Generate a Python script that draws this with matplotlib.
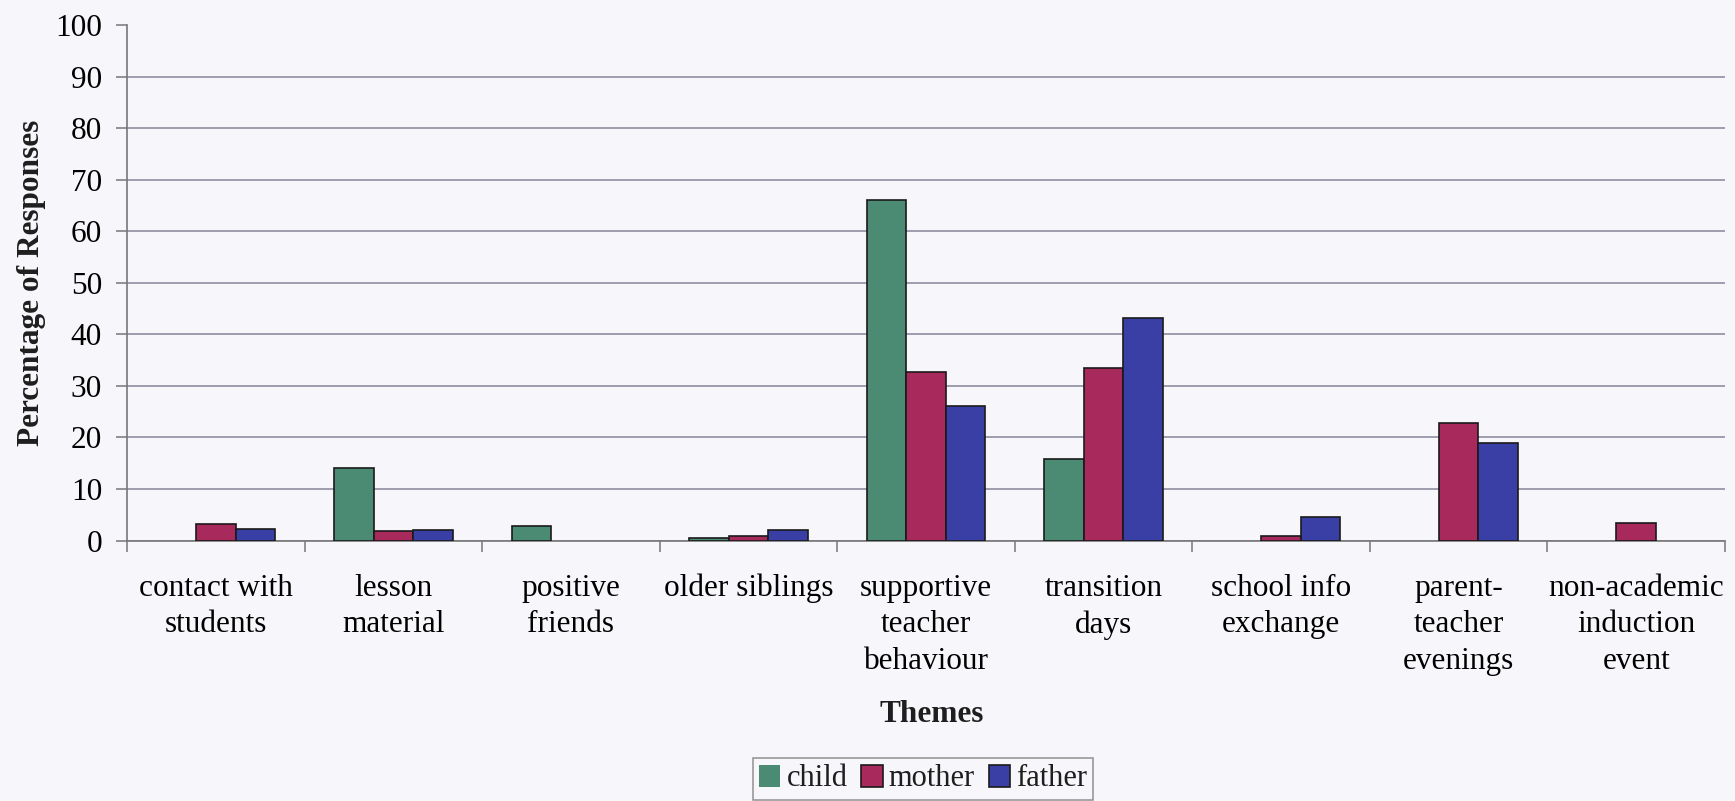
import matplotlib
matplotlib.use("Agg")
import matplotlib.pyplot as plt
import numpy as np

# Themes and percentage of responses per respondent group
themes = [
    "contact with\nstudents",
    "lesson\nmaterial",
    "positive\nfriends",
    "older siblings",
    "supportive\nteacher\nbehaviour",
    "transition\ndays",
    "school info\nexchange",
    "parent-\nteacher\nevenings",
    "non-academic\ninduction\nevent",
]
child = [0, 14.0, 2.9, 0.45, 66.0, 15.8, 0, 0, 0]
mother = [3.2, 1.9, 0, 0.85, 32.6, 33.5, 0.9, 22.8, 3.4]
father = [2.3, 2.1, 0, 2.0, 26.1, 43.1, 4.5, 18.9, 0]
series_names = ["child", "mother", "father"]
y_ticks = [0, 10, 20, 30, 40, 50, 60, 70, 80, 90, 100]

colors = ["#4b8b74", "#a82a5c", "#3a3fa6"]
bg = "#f7f7fb"

plt.rcParams["font.family"] = ["Liberation Serif", "DejaVu Serif"]
plt.rcParams["text.color"] = "#1e1e1e"

W, H = 1735, 801
fig = plt.figure(figsize=(W / 100, H / 100), dpi=100, facecolor=bg)
ax = fig.add_axes([127 / W, 1 - 540.5 / H, (1725 - 127) / W, (540.5 - 25) / H])
ax.set_facecolor(bg)

x = np.arange(len(themes))
bw = 1 / 4.5
for i, (vals, c, name) in enumerate(zip([child, mother, father], colors, series_names)):
    # empty categories get no outline so nothing shows on the axis line
    lws = [1.2 if v > 0 else 0 for v in vals]
    ax.bar(x + (i - 1) * bw, vals, width=bw, color=c, edgecolor="#1a1a1a",
           linewidth=lws, label=name, zorder=3)

ax.set_xlim(-0.5, len(themes) - 0.5)
ax.set_ylim(0, 100)
ax.set_yticks(y_ticks)
ax.set_yticklabels([str(v) for v in y_ticks], fontsize=22.5)

ax.set_xticks(x)
ax.set_xticklabels(themes, fontsize=22.5, linespacing=1.34, va="top")
ax.set_xticks(np.arange(-0.5, len(themes)), minor=True)
ax.tick_params(axis="x", which="major", length=0, pad=24)
ax.tick_params(axis="x", which="minor", length=8, width=1.1, color="#777777")
ax.tick_params(axis="y", length=8, width=1.1, color="#777777", pad=10)

ax.yaxis.grid(True, color="#85859a", linewidth=1.1, zorder=0)
ax.set_axisbelow(True)
ax.get_ygridlines()[-1].set_visible(False)

for s in ["top", "right"]:
    ax.spines[s].set_visible(False)
for s in ["left", "bottom"]:
    ax.spines[s].set_color("#777777")
    ax.spines[s].set_linewidth(1.2)

fig.text(31 / W, 1 - 283 / H, "Percentage of Responses", rotation=90,
         ha="center", va="center", fontsize=22.5, fontweight="bold")
fig.text(932 / W, 1 - 714 / H, "Themes", ha="center", va="center",
         fontsize=22.5, fontweight="bold")

leg = fig.legend(loc="center", bbox_to_anchor=(923 / W, 1 - 779 / H), ncol=3,
                 fontsize=22, frameon=True, fancybox=False, edgecolor="#777777",
                 facecolor=bg, handlelength=0.7, handleheight=0.7,
                 handletextpad=0.2, columnspacing=0.45, borderpad=0.2,
                 borderaxespad=0)
leg.get_frame().set_linewidth(1.1)

fig.savefig("out.png", dpi=100, facecolor=bg)
